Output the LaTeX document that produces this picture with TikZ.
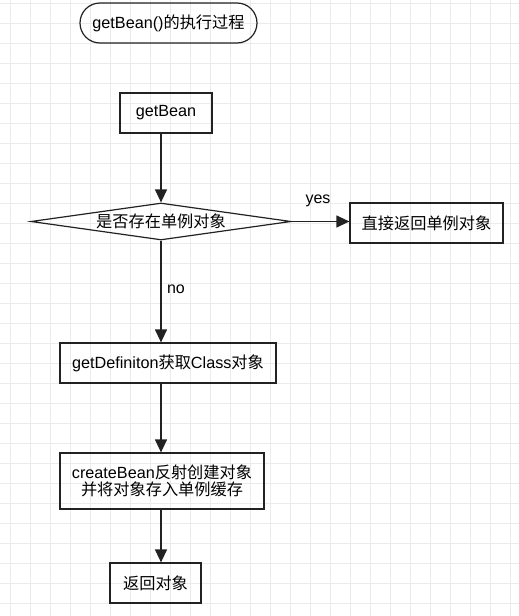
\documentclass[tikz,border=0pt]{standalone}
\usepackage{fontspec}
\setmainfont{Liberation Sans}
\newfontfamily\cjk{Noto Sans CJK SC}
\usetikzlibrary{shapes.geometric,arrows.meta}
\definecolor{gridcol}{HTML}{EBEBEB}
\definecolor{linecol}{HTML}{222222}
\tikzset{
  box/.style={draw=linecol, line width=1.2pt, rectangle, inner sep=0pt, align=center, font=\fontsize{16.2}{19.5}\selectfont},
  flow/.style={draw=linecol, line width=1.2pt, -{Triangle[length=13pt,width=12pt]}},
  lbl/.style={inner sep=0pt, font=\fontsize{16}{19}\selectfont}
}
\begin{document}
\begin{tikzpicture}[x=1pt,y=-1pt]
\useasboundingbox (0,0) rectangle (519,616);
\fill[white] (0,0) rectangle (519,616);
\foreach \i in {0,...,25} \draw[gridcol, line width=1pt] (10.5+20*\i,0) -- (10.5+20*\i,616);
\foreach \j in {0,...,30} \draw[gridcol, line width=1pt] (0,3+20*\j) -- (519,3+20*\j);

\node[box, minimum width=177pt, minimum height=40pt, rounded corners=20pt] (title) at (168.5,23) {getBean()\cjk 的执行过程};
\node[box, minimum width=92pt, minimum height=40pt] (gb) at (166,113) {getBean};
\node[box, shape=diamond, shape aspect=7, minimum width=260pt, minimum height=37pt] (dm) at (161,221.5) {\cjk 是否存在单例对象};
\node[box, minimum width=153pt, minimum height=40pt] (ret1) at (426.5,223) {\cjk 直接返回单例对象};
\node[box, minimum width=216pt, minimum height=40pt] (gd) at (168,363) {getDefiniton{\cjk 获取}Class{\cjk 对象}};
\node[box, minimum width=204pt, minimum height=56pt] (cb) at (162,481) {createBean{\cjk 反射创建对象}\\[-2pt]{\cjk 并将对象存入单例缓存}};
\node[box, minimum width=91pt, minimum height=40pt] (ret2) at (155.5,583) {\cjk 返回对象};

\draw[flow] (gb.south -| dm.north) -- (dm.north);
\draw[flow] (dm.east) -- (dm.east -| ret1.west);
\draw[flow] (dm.south) -- (gd.north -| dm.south);
\draw[flow] (gd.south -| dm.south) -- (cb.north -| dm.south);
\draw[flow] (cb.south -| dm.south) -- (ret2.north -| dm.south);

\node[lbl] (yes) at (318,201) {yes};
\node[lbl] (no) at (176,289) {no};
\end{tikzpicture}
\end{document}
